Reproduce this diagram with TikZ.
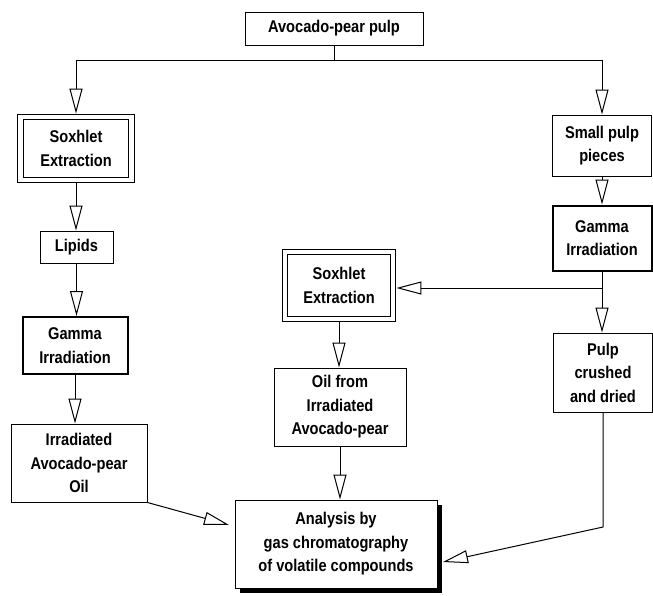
\documentclass[tikz,border=0pt]{standalone}
\usepackage{fontspec}
\setmainfont{Liberation Sans}[FakeStretch=0.86]
\usetikzlibrary{arrows.meta,shadows}
\begin{document}
\begin{tikzpicture}[x=1pt,y=-1pt,
  box/.style={draw,fill=white,line width=1pt,inner sep=0pt,align=center,
    font=\fontsize{17}{23.5}\selectfont\bfseries},
  dbox/.style={box,double,double distance=4.8pt,line width=0.9pt},
  tbox/.style={box,line width=2pt},
  arr/.style={-{Triangle[open,length=25pt,width=13pt]},line width=1pt},
  ln/.style={line width=1pt}]
\useasboundingbox (0,0) rectangle (653,595);

\node[box,minimum width=178,minimum height=33] (top) at (334,28.5) {Avocado-pear pulp};
\node[dbox,minimum width=111,minimum height=63] (soxL) at (76,148.5) {Soxhlet\\Extraction};
\node[box,minimum width=73,minimum height=32] (lip) at (76.5,247) {Lipids};
\node[tbox,minimum width=105,minimum height=57] (gamL) at (75,345.5) {Gamma\\Irradiation};
\node[box,minimum width=136,minimum height=78] (irr) at (79,463) {Irradiated\\Avocado-pear\\Oil};
\node[box,minimum width=99,minimum height=61] (small) at (602,145.5) {Small pulp\\pieces};
\node[tbox,minimum width=99,minimum height=65] (gamR) at (602,238) {Gamma\\Irradiation};
\node[box,minimum width=99,minimum height=79] (pulp) at (603,372.5) {Pulp\\crushed\\and dried};
\node[dbox,minimum width=108,minimum height=67] (soxM) at (339,285.5) {Soxhlet\\Extraction};
\node[box,minimum width=132,minimum height=78] (oil) at (340,407) {Oil from\\Irradiated\\Avocado-pear};
\node[box,minimum width=202,minimum height=88,
  drop shadow={shadow xshift=5pt,shadow yshift=-5pt,fill=black,opacity=1}] (ana) at (336,544)
  {Analysis by\\gas chromatography\\of volatile compounds};

\coordinate (split) at (top.south |- 0,60);
\draw[ln] (top.south) -- (split);
\draw[arr] (split) -| ([yshift=3pt]soxL.north);
\draw[arr] (split) -| (small.north);

\draw[arr] ([yshift=-3pt]soxL.south) -- (soxL.south |- lip.north);
\draw[arr] (lip.south) -- (lip.south |- gamL.north);
\draw[arr] (gamL.south) -- (gamL.south |- irr.north);

\draw[arr] (small.south) -- (small.south |- gamR.north);
\draw[arr] (gamR.south) -- (gamR.south |- pulp.north);
\coordinate (br) at (gamR.south |- 0,288);
\draw[arr] (br) -- ([xshift=3pt]soxM.east |- br);

\draw[arr] ([yshift=-3pt]soxM.south) -- (soxM.south |- oil.north);
\draw[arr] (oil.south) -- (oil.south |- ana.north);

\coordinate (tipL) at (229,525);
\draw[arr] (irr.south east) -- (tipL);
\coordinate (bend) at (pulp.south |- 0,527);
\coordinate (tipR) at (443,562);
\draw[arr] (pulp.south) -- (bend) -- (tipR);
\end{tikzpicture}
\end{document}
